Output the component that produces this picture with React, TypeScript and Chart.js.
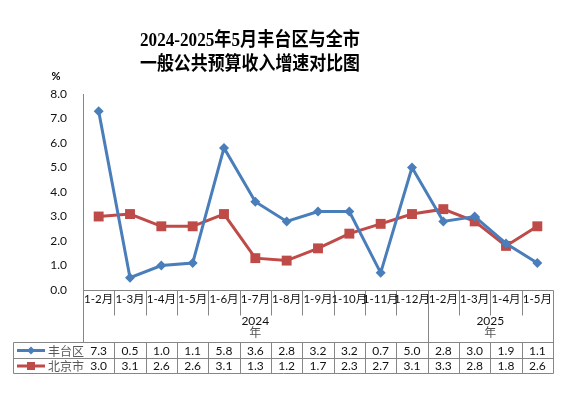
import React, { useEffect, useRef } from "react";
import { Chart, registerables } from "chart.js";
Chart.register(...registerables);

const categories = ["1-2月","1-3月","1-4月","1-5月","1-6月","1-7月","1-8月","1-9月","1-10月","1-11月","1-12月","1-2月","1-3月","1-4月","1-5月"];
const fengtai = [7.3,0.5,1.0,1.1,5.8,3.6,2.8,3.2,3.2,0.7,5.0,2.8,3.0,1.9,1.1];
const beijing = [3.0,3.1,2.6,2.6,3.1,1.3,1.2,1.7,2.3,2.7,3.1,3.3,2.8,1.8,2.6];
const yearLabels = ["2024","2025"];
const yearCounts = [11, 4];
const seriesNames = ["丰台区","北京市"];
const titleLines = ["2024-2025年5月丰台区与全市","一般公共预算收入增速对比图"];
const yTicks = [0,1,2,3,4,5,6,7,8];

const BLUE = "#4A7EBB";
const RED = "#BE4B48";
const GRID = "#868686";
const NUMFONT = '"Lato", "Noto Sans CJK SC", sans-serif';

export default function App() {
  const ref = useRef<HTMLCanvasElement>(null);
  useEffect(() => {
    const tablePlugin = {
      id: "tablePlugin",
      afterDraw(chart: any) {
        const ctx = chart.ctx as CanvasRenderingContext2D;
        const area = chart.chartArea;
        const xs = chart.scales.x;
        const n = categories.length;
        const step = (area.right - area.left) / n;
        const L = Math.round(area.left) + 0.5;
        const R = Math.round(area.right) + 0.5;
        const top = Math.round(area.bottom) + 0.5;
        const labelBottom = top + 52;
        const row1 = labelBottom + 16;
        const row2 = row1 + 15;
        const tableLeft = 13.5;
        ctx.save();
        ctx.strokeStyle = GRID;
        ctx.lineWidth = 1;
        ctx.beginPath();
        ctx.moveTo(L, top); ctx.lineTo(R, top);
        ctx.moveTo(L, top); ctx.lineTo(L, labelBottom);
        ctx.moveTo(R, top); ctx.lineTo(R, row2);
        ctx.moveTo(tableLeft, labelBottom); ctx.lineTo(R, labelBottom);
        ctx.moveTo(tableLeft, row1); ctx.lineTo(R, row1);
        ctx.moveTo(tableLeft, row2); ctx.lineTo(R, row2);
        ctx.moveTo(tableLeft, labelBottom); ctx.lineTo(tableLeft, row2);
        let acc = 0;
        const groupBounds: number[] = [0];
        yearCounts.forEach((c) => { acc += c; groupBounds.push(acc); });
        for (let i = 1; i < n; i++) {
          const x = Math.round(area.left + i * step) + 0.5;
          const isGroup = groupBounds.includes(i);
          ctx.moveTo(x, top);
          ctx.lineTo(x, isGroup ? labelBottom : top + 25);
          ctx.moveTo(x, labelBottom);
          ctx.lineTo(x, row2);
        }
        ctx.stroke();

        ctx.fillStyle = "#111";
        ctx.textAlign = "center";
        ctx.textBaseline = "middle";
        for (let i = 0; i < n; i++) {
          const cx = xs.getPixelForValue(i);
          ctx.font = `11.5px ${NUMFONT}`;
          ctx.fillText(categories[i], cx, top + 8.5);
          ctx.font = `12px ${NUMFONT}`;
          ctx.fillText(fengtai[i].toFixed(1), cx, (labelBottom + row1) / 2 + 0.5);
          ctx.fillText(beijing[i].toFixed(1), cx, (row1 + row2) / 2 + 0.5);
        }
        for (let g = 0; g < yearLabels.length; g++) {
          const x0 = area.left + groupBounds[g] * step;
          const x1 = area.left + groupBounds[g + 1] * step;
          const cx = (x0 + x1) / 2;
          ctx.fillStyle = "#111";
          ctx.font = `12px ${NUMFONT}`;
          ctx.fillText(yearLabels[g], cx, top + 31);
          ctx.fillStyle = "#555";
          ctx.font = `12px "Noto Sans CJK SC", sans-serif`;
          ctx.fillText("年", cx, top + 42);
        }
        const rowsY = [(labelBottom + row1) / 2, (row1 + row2) / 2];
        const colors = [BLUE, RED];
        for (let s = 0; s < 2; s++) {
          const y = rowsY[s];
          ctx.strokeStyle = colors[s];
          ctx.lineWidth = 3;
          ctx.beginPath();
          ctx.moveTo(17, y); ctx.lineTo(45, y);
          ctx.stroke();
          ctx.fillStyle = colors[s];
          if (s === 0) {
            ctx.beginPath();
            ctx.moveTo(31, y - 4); ctx.lineTo(35, y); ctx.lineTo(31, y + 4); ctx.lineTo(27, y);
            ctx.closePath(); ctx.fill();
          } else {
            ctx.fillRect(27, y - 4, 8, 8);
          }
          ctx.fillStyle = "#595959";
          ctx.font = `12px "Noto Sans CJK SC", sans-serif`;
          ctx.textAlign = "left";
          ctx.fillText(seriesNames[s], 48, y + 0.5);
          ctx.textAlign = "center";
        }

        ctx.fillStyle = "#000";
        ctx.font = `bold 11px ${NUMFONT}`;
        ctx.textAlign = "center";
        ctx.fillText("%", 56, 76);

        ctx.font = 'bold 19px "Liberation Serif", "Noto Sans CJK SC", serif';
        const tl = 140, tw = 220;
        const ys = [41, 65];
        titleLines.forEach((t, i) => {
          const m = ctx.measureText(t).width;
          ctx.save();
          ctx.translate(tl, ys[i]);
          ctx.scale(tw / m, 1);
          ctx.textAlign = "left";
          ctx.fillText(t, 0, 0);
          ctx.restore();
        });
        ctx.restore();
      },
    };

    const chart = new Chart(ref.current!, {
      type: "line",
      data: {
        labels: categories,
        datasets: [
          {
            label: seriesNames[0],
            data: fengtai,
            borderColor: BLUE,
            backgroundColor: BLUE,
            borderWidth: 3,
            pointStyle: "rectRot",
            pointRadius: 5,
            pointBorderWidth: 0,
            tension: 0,
          },
          {
            label: seriesNames[1],
            data: beijing,
            borderColor: RED,
            backgroundColor: RED,
            borderWidth: 3,
            pointStyle: "rect",
            pointRadius: 7,
            pointBorderWidth: 0,
            tension: 0,
          },
        ],
      },
      options: {
        animation: false,
        responsive: false,
        layout: { padding: { left: 0, top: 94, right: 26, bottom: 104 } },
        plugins: { legend: { display: false }, title: { display: false }, tooltip: { enabled: false } },
        scales: {
          x: { display: false, offset: true },
          y: {
            min: 0,
            max: 8,
            afterFit: (scale: any) => { scale.width = 83; },
            afterBuildTicks: (scale: any) => { scale.ticks = yTicks.map((v) => ({ value: v })); },
            grid: { display: false, drawTicks: false },
            border: { display: true, color: GRID, width: 1 },
            ticks: {
              padding: 16,
              color: "#111",
              font: { family: NUMFONT, size: 12 },
              callback: (v: any) => Number(v).toFixed(1),
            },
          },
        },
      },
      plugins: [tablePlugin],
    });
    return () => chart.destroy();
  }, []);
  return (
    <div style={{ position: "fixed", left: 0, top: 0, width: 579, height: 394, background: "#fff" }}>
      <canvas ref={ref} width={579} height={394} style={{ width: 579, height: 394 }} />
    </div>
  );
}
